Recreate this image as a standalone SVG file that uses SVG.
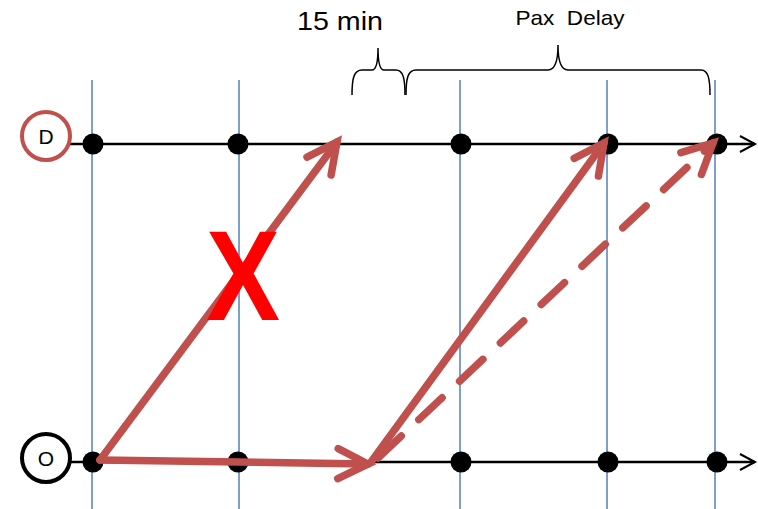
<svg xmlns="http://www.w3.org/2000/svg" width="758" height="509" viewBox="0 0 758 509">
<defs>
<style>
.grid{stroke:#4F81BD;stroke-width:1.5}
.axis{stroke:#000;stroke-width:2.5;fill:none}
.dot{fill:#000}
.red{stroke:#C0504D;stroke-width:7.5;fill:none;stroke-linecap:round}
.brace{stroke:#000;stroke-width:1.5;fill:none}
.lbl{font-family:"Liberation Sans","Open Sans",sans-serif;fill:#000}
</style>
<marker id="ah" markerUnits="userSpaceOnUse" viewBox="-40 -25 50 50" markerWidth="50" markerHeight="50" refX="0" refY="0" orient="auto" overflow="visible">
<path d="M-30,-15 L0,0 L-30,15" stroke="#C0504D" stroke-width="7.5" fill="none" stroke-linecap="round" stroke-linejoin="miter"/>
</marker>
<marker id="bh" markerUnits="userSpaceOnUse" viewBox="-20 -10 24 20" markerWidth="24" markerHeight="20" refX="0" refY="0" orient="auto" overflow="visible">
<path d="M-15,-8 L0,0 L-15,8" stroke="#000" stroke-width="2" fill="none"/>
</marker>
</defs>
<rect width="758" height="509" fill="#fff"/>
<g id="grid">
<line class="grid" x1="92" y1="80" x2="92" y2="509"/>
<line class="grid" x1="239" y1="80" x2="239" y2="509"/>
<line class="grid" x1="460" y1="80" x2="460" y2="509"/>
<line class="grid" x1="607" y1="80" x2="607" y2="509"/>
<line class="grid" x1="715" y1="80" x2="715" y2="509"/>
</g>
<g id="axes">
<line class="axis" x1="68" y1="144" x2="755" y2="144" marker-end="url(#bh)"/>
<line class="axis" x1="68" y1="462" x2="755" y2="462" marker-end="url(#bh)"/>
</g>
<g id="node-D">
<circle cx="46" cy="136" r="24" fill="#fff" stroke="#C0504D" stroke-width="4"/>
<text class="lbl" x="46" y="144" font-size="21" text-anchor="middle">D</text>
</g>
<g id="node-O">
<circle cx="46" cy="458" r="24" fill="#fff" stroke="#000" stroke-width="4"/>
<text class="lbl" x="46" y="466" font-size="21" text-anchor="middle">O</text>
</g>
<g id="dots">
<circle class="dot" cx="93" cy="144" r="10.5"/>
<circle class="dot" cx="238" cy="144" r="10.5"/>
<circle class="dot" cx="461" cy="144" r="10.5"/>
<circle class="dot" cx="608" cy="144" r="10.5"/>
<circle class="dot" cx="717" cy="144" r="10.5"/>
<circle class="dot" cx="93" cy="462" r="10.5"/>
<circle class="dot" cx="238" cy="462" r="10.5"/>
<circle class="dot" cx="461" cy="462" r="10.5"/>
<circle class="dot" cx="608" cy="462" r="10.5"/>
<circle class="dot" cx="717" cy="462" r="10.5"/>
</g>
<g id="connectors">
<line class="red" x1="100" y1="460" x2="337" y2="142" marker-end="url(#ah)"/>
<line class="red" x1="100" y1="460" x2="368" y2="464" marker-end="url(#ah)"/>
<line class="red" x1="371" y1="462" x2="604" y2="143" marker-end="url(#ah)"/>
<line class="red" x1="378" y1="458" x2="713" y2="143" stroke-dasharray="32 24" stroke-linecap="butt" marker-end="url(#ah)"/>
</g>
<g id="braces">
<path class="brace" d="M352,95 C352,78 354,70 362,70 L372,70 C376,70 378,64 378,48 C378,64 380,70 384,70 L396,70 C403,70 405,78 405,95"/>
<path class="brace" d="M406,95 C406,78 408,70 416,70 L548,70 C554,70 558,64 558,45 C558,64 562,70 568,70 L701,70 C708,70 710,78 710,95"/>
</g>
<g id="labels">
<text class="lbl" x="340" y="30" font-size="26" text-anchor="middle" textLength="86" lengthAdjust="spacingAndGlyphs">15 min</text>
<text class="lbl" x="570" y="25" font-size="21" text-anchor="middle" xml:space="preserve" textLength="109" lengthAdjust="spacingAndGlyphs">Pax  Delay</text>
<text x="243" y="320" font-family="Liberation Sans, sans-serif" font-weight="bold" font-size="128" fill="#FF0000" text-anchor="middle" textLength="74" lengthAdjust="spacingAndGlyphs">X</text>
</g>
</svg>
